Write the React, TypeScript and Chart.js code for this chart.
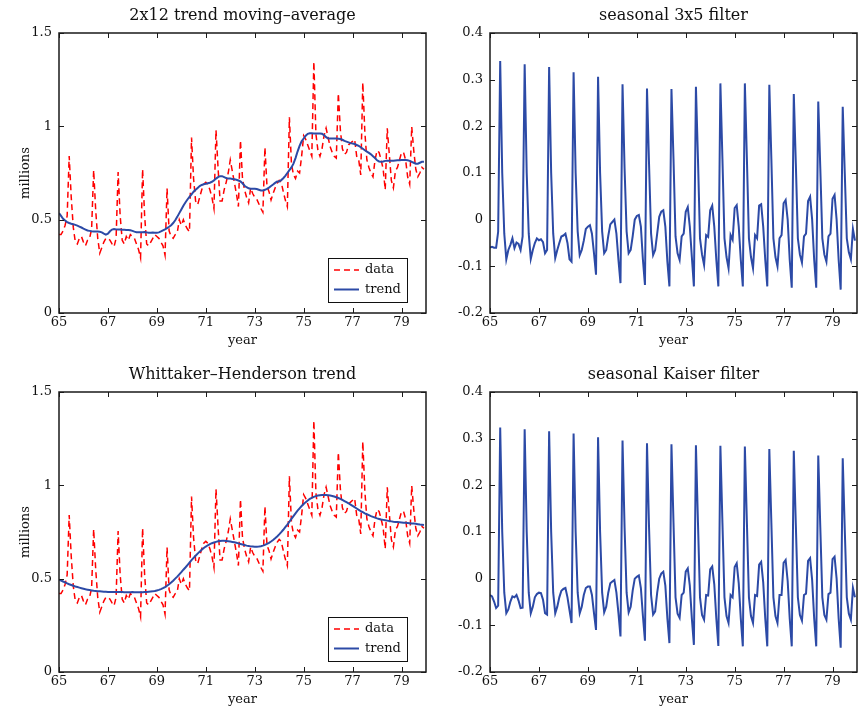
import React, { useEffect, useRef } from "react";
import { Chart, registerables } from "chart.js";

Chart.register(...registerables);

const FONT = '"DejaVu Serif", serif';
const TEXT = "#111111";
const RED = "#ff0000";
const BLUE = "#2c4aa6";

// x-axis (years, 1965-1980) and tick positions
const xTicks = [65, 67, 69, 71, 73, 75, 77, 79];
const levelTicks = [0, 0.5, 1, 1.5];
const seasonalTicks = [-0.2, -0.1, 0, 0.1, 0.2, 0.3, 0.4];

// monthly samples, January 1965 .. December 1979
const startYear = 65;
const monthsPerYear = 12;

// observed monthly series (millions), one row per year
const data = [
  0.42, 0.42, 0.44, 0.47, 0.52, 0.841, 0.62, 0.46, 0.38, 0.37, 0.40, 0.41,
  0.38, 0.36, 0.39, 0.40, 0.45, 0.765, 0.55, 0.40, 0.32, 0.35, 0.38, 0.40,
  0.40, 0.39, 0.37, 0.355, 0.40, 0.755, 0.52, 0.39, 0.37, 0.41, 0.39, 0.42,
  0.41, 0.40, 0.37, 0.34, 0.295, 0.77, 0.52, 0.37, 0.36, 0.38, 0.40, 0.42,
  0.41, 0.40, 0.38, 0.36, 0.31, 0.668, 0.44, 0.41, 0.40, 0.42, 0.43, 0.50,
  0.47, 0.50, 0.47, 0.45, 0.435, 0.94, 0.72, 0.60, 0.58, 0.62, 0.66, 0.69,
  0.70, 0.69, 0.66, 0.62, 0.56, 0.98, 0.78, 0.60, 0.60, 0.66, 0.70, 0.75,
  0.82, 0.76, 0.70, 0.64, 0.57, 0.925, 0.72, 0.66, 0.62, 0.59, 0.67, 0.64,
  0.62, 0.61, 0.585, 0.56, 0.54, 0.887, 0.68, 0.65, 0.605, 0.64, 0.67, 0.695,
  0.71, 0.70, 0.65, 0.605, 0.57, 1.048, 0.80, 0.74, 0.72, 0.76, 0.75, 0.84,
  0.95, 0.93, 0.90, 0.87, 0.84, 1.346, 0.96, 0.87, 0.84, 0.88, 0.95, 0.99,
  0.94, 0.89, 0.86, 0.84, 0.83, 1.177, 0.98, 0.88, 0.85, 0.86, 0.90, 0.91,
  0.92, 0.93, 0.84, 0.82, 0.74, 1.234, 0.97, 0.82, 0.78, 0.75, 0.73, 0.82,
  0.87, 0.86, 0.82, 0.77, 0.66, 0.99, 0.85, 0.71, 0.67, 0.76, 0.78, 0.82,
  0.86, 0.86, 0.82, 0.73, 0.69, 0.998, 0.87, 0.77, 0.73, 0.75, 0.78, 0.77,
];

// 2x12 moving-average trend
const trendMA = [
  0.535, 0.52, 0.505, 0.495, 0.487, 0.482, 0.478, 0.475, 0.472, 0.468, 0.463, 0.458,
  0.452, 0.447, 0.442, 0.44, 0.438, 0.437, 0.437, 0.436, 0.435, 0.432, 0.425, 0.42,
  0.425, 0.438, 0.447, 0.45, 0.448, 0.447, 0.447, 0.446, 0.446, 0.445, 0.445, 0.443,
  0.44, 0.436, 0.433, 0.432, 0.432, 0.433, 0.434, 0.432, 0.43, 0.43, 0.431, 0.43,
  0.43, 0.432, 0.437, 0.443, 0.448, 0.455, 0.462, 0.47, 0.482, 0.497, 0.515, 0.535,
  0.555, 0.575, 0.592, 0.608, 0.622, 0.636, 0.65, 0.66, 0.67, 0.68, 0.686, 0.69,
  0.692, 0.695, 0.698, 0.703, 0.71, 0.72, 0.728, 0.733, 0.733, 0.728, 0.723, 0.72,
  0.72, 0.718, 0.716, 0.714, 0.71, 0.705, 0.695, 0.682, 0.674, 0.668, 0.666, 0.665,
  0.665, 0.664, 0.66, 0.656, 0.656, 0.66, 0.665, 0.672, 0.68, 0.688, 0.697, 0.705,
  0.705, 0.712, 0.722, 0.735, 0.75, 0.765, 0.78, 0.80, 0.83, 0.865, 0.895, 0.92,
  0.935, 0.95, 0.96, 0.963, 0.963, 0.962, 0.962, 0.962, 0.962, 0.96, 0.953, 0.942,
  0.935, 0.935, 0.935, 0.935, 0.935, 0.934, 0.932, 0.928, 0.922, 0.918, 0.914, 0.91,
  0.908, 0.905, 0.90, 0.895, 0.888, 0.88, 0.872, 0.865, 0.858, 0.85, 0.84, 0.83,
  0.818, 0.812, 0.81, 0.812, 0.815, 0.816, 0.815, 0.815, 0.816, 0.817, 0.818, 0.818,
  0.82, 0.82, 0.819, 0.818, 0.815, 0.81, 0.805, 0.80, 0.80, 0.805, 0.81, 0.81,
];

// Whittaker-Henderson smoothed trend
const trendWH = [
  0.495, 0.49, 0.485, 0.48, 0.475, 0.47, 0.466, 0.462, 0.458, 0.455, 0.452, 0.449,
  0.446, 0.443, 0.441, 0.439, 0.437, 0.435, 0.434, 0.433, 0.432, 0.431, 0.43, 0.43,
  0.429, 0.429, 0.428, 0.428, 0.428, 0.428, 0.428, 0.428, 0.427, 0.427, 0.427, 0.427,
  0.428, 0.427, 0.427, 0.427, 0.427, 0.427, 0.428, 0.429, 0.43, 0.431, 0.432, 0.434,
  0.437, 0.44, 0.444, 0.449, 0.455, 0.462, 0.47, 0.479, 0.489, 0.5, 0.511, 0.523,
  0.535, 0.548, 0.56, 0.573, 0.586, 0.599, 0.611, 0.623, 0.634, 0.645, 0.655, 0.664,
  0.672, 0.679, 0.685, 0.69, 0.694, 0.697, 0.7, 0.702, 0.703, 0.703, 0.702, 0.701,
  0.699, 0.697, 0.695, 0.692, 0.689, 0.686, 0.683, 0.68, 0.677, 0.675, 0.673, 0.672,
  0.671, 0.671, 0.672, 0.674, 0.677, 0.681, 0.686, 0.692, 0.699, 0.707, 0.716, 0.726,
  0.737, 0.749, 0.762, 0.776, 0.79, 0.805, 0.82, 0.835, 0.85, 0.864, 0.877, 0.889,
  0.9, 0.91, 0.919, 0.927, 0.933, 0.938, 0.942, 0.945, 0.947, 0.948, 0.948, 0.948,
  0.947, 0.945, 0.943, 0.94, 0.936, 0.932, 0.927, 0.922, 0.916, 0.91, 0.904, 0.897,
  0.89, 0.883, 0.876, 0.869, 0.862, 0.856, 0.85, 0.845, 0.84, 0.835, 0.831, 0.827,
  0.823, 0.82, 0.817, 0.815, 0.813, 0.811, 0.809, 0.807, 0.805, 0.804, 0.803, 0.802,
  0.801, 0.8, 0.799, 0.798, 0.797, 0.796, 0.795, 0.794, 0.792, 0.79, 0.789, 0.787,
];

// seasonal component from the 3x5 seasonal filter
const seasonal3x5 = [
  -0.06, -0.058, -0.06, -0.06, -0.026, 0.34, 0.10, -0.03, -0.085, -0.065, -0.054, -0.04,
  -0.061, -0.049, -0.052, -0.065, -0.036, 0.333, 0.10, -0.03, -0.084, -0.065, -0.05, -0.04,
  -0.044, -0.042, -0.048, -0.072, -0.065, 0.327, 0.10, -0.03, -0.082, -0.065, -0.05, -0.036,
  -0.034, -0.03, -0.05, -0.085, -0.09, 0.316, 0.10, -0.025, -0.076, -0.065, -0.045, -0.02,
  -0.015, -0.012, -0.03, -0.072, -0.118, 0.306, 0.10, -0.025, -0.072, -0.065, -0.035, -0.01,
  -0.005, 0.0, -0.03, -0.086, -0.136, 0.29, 0.11, -0.025, -0.072, -0.065, -0.035, 0.0,
  0.008, 0.01, -0.015, -0.086, -0.14, 0.281, 0.12, -0.03, -0.076, -0.065, -0.03, 0.006,
  0.017, 0.02, -0.015, -0.09, -0.143, 0.28, 0.13, -0.036, -0.072, -0.086, -0.036, -0.03,
  0.017, 0.027, -0.015, -0.08, -0.143, 0.285, 0.13, -0.04, -0.075, -0.097, -0.033, -0.037,
  0.02, 0.03, -0.015, -0.086, -0.143, 0.292, 0.13, -0.04, -0.08, -0.104, -0.033, -0.043,
  0.025, 0.031, -0.015, -0.086, -0.143, 0.292, 0.13, -0.04, -0.08, -0.104, -0.033, -0.04,
  0.03, 0.033, -0.015, -0.086, -0.143, 0.289, 0.13, -0.04, -0.08, -0.10, -0.04, -0.033,
  0.035, 0.042, 0.0, -0.086, -0.146, 0.269, 0.12, -0.04, -0.075, -0.092, -0.036, -0.03,
  0.04, 0.049, 0.0, -0.086, -0.146, 0.253, 0.11, -0.04, -0.075, -0.09, -0.036, -0.03,
  0.045, 0.053, 0.0, -0.086, -0.15, 0.242, 0.10, -0.04, -0.07, -0.085, -0.02, -0.045,
];

// seasonal component from the Kaiser seasonal filter
const seasonalKaiser = [
  -0.035, -0.038, -0.049, -0.063, -0.058, 0.324, 0.10, -0.03, -0.074, -0.066, -0.049, -0.038,
  -0.04, -0.035, -0.047, -0.063, -0.062, 0.32, 0.10, -0.03, -0.074, -0.06, -0.04, -0.033,
  -0.03, -0.031, -0.045, -0.074, -0.077, 0.316, 0.10, -0.03, -0.074, -0.06, -0.04, -0.026,
  -0.022, -0.02, -0.04, -0.068, -0.095, 0.311, 0.10, -0.03, -0.074, -0.06, -0.035, -0.02,
  -0.017, -0.017, -0.035, -0.074, -0.11, 0.303, 0.10, -0.03, -0.072, -0.06, -0.03, -0.01,
  -0.006, -0.003, -0.03, -0.074, -0.124, 0.296, 0.11, -0.03, -0.072, -0.06, -0.025, 0.0,
  0.004, 0.007, -0.02, -0.08, -0.133, 0.29, 0.11, -0.035, -0.077, -0.07, -0.03, 0.0,
  0.011, 0.015, -0.015, -0.085, -0.138, 0.288, 0.12, -0.04, -0.075, -0.084, -0.035, -0.03,
  0.015, 0.022, -0.015, -0.085, -0.142, 0.286, 0.12, -0.04, -0.078, -0.088, -0.035, -0.036,
  0.02, 0.026, -0.012, -0.085, -0.144, 0.285, 0.12, -0.04, -0.08, -0.095, -0.035, -0.04,
  0.025, 0.033, -0.01, -0.085, -0.145, 0.283, 0.12, -0.04, -0.08, -0.095, -0.035, -0.037,
  0.03, 0.036, -0.008, -0.085, -0.145, 0.278, 0.12, -0.04, -0.08, -0.095, -0.035, -0.035,
  0.034, 0.04, -0.005, -0.085, -0.145, 0.274, 0.115, -0.04, -0.078, -0.09, -0.035, -0.032,
  0.038, 0.044, -0.003, -0.085, -0.145, 0.264, 0.11, -0.04, -0.078, -0.088, -0.033, -0.03,
  0.042, 0.047, 0.0, -0.085, -0.148, 0.258, 0.105, -0.04, -0.075, -0.088, -0.02, -0.04,
];

const toPoints = (values: number[]) =>
  values.map((v, i) => ({ x: startYear + i / monthsPerYear, y: v }));

const fmt = (v: number) => String(Number(v.toFixed(2)));

// Axes box, inward tick marks on all four sides, and an inset legend
const framePlugin = {
  id: "frame",
  afterDraw(chart: any, _args: any, opts: any) {
    const { ctx, chartArea: a, scales } = chart;
    const tick = 5;
    ctx.save();
    ctx.strokeStyle = "#1a1a1a";
    ctx.lineWidth = 1;
    ctx.beginPath();
    for (const t of scales.x.ticks) {
      const px = Math.round(scales.x.getPixelForValue(t.value)) + 0.5;
      ctx.moveTo(px, a.bottom);
      ctx.lineTo(px, a.bottom - tick);
      ctx.moveTo(px, a.top);
      ctx.lineTo(px, a.top + tick);
    }
    for (const t of scales.y.ticks) {
      const py = Math.round(scales.y.getPixelForValue(t.value)) + 0.5;
      ctx.moveTo(a.left, py);
      ctx.lineTo(a.left + tick, py);
      ctx.moveTo(a.right, py);
      ctx.lineTo(a.right - tick, py);
    }
    ctx.stroke();
    ctx.lineWidth = 1.5;
    ctx.strokeRect(a.left, a.top, a.right - a.left, a.bottom - a.top);

    if (opts && opts.legend) {
      const w = 79;
      const h = 44;
      const x0 = a.right - 19 - w;
      const y0 = a.bottom - 11 - h;
      ctx.fillStyle = "#ffffff";
      ctx.fillRect(x0, y0, w, h);
      ctx.lineWidth = 1;
      ctx.strokeStyle = "#111111";
      ctx.strokeRect(x0 + 0.5, y0 + 0.5, w, h);
      const order: number[] = opts.legendOrder;
      order.forEach((di, row) => {
        const ds = chart.data.datasets[di];
        const cy = y0 + 12 + row * 19.5;
        ctx.beginPath();
        ctx.strokeStyle = ds.borderColor;
        ctx.lineWidth = ds.borderWidth;
        ctx.setLineDash(ds.borderDash || []);
        ctx.moveTo(x0 + 6, cy);
        ctx.lineTo(x0 + 31, cy);
        ctx.stroke();
        ctx.setLineDash([]);
        ctx.fillStyle = TEXT;
        ctx.font = `13px ${FONT}`;
        ctx.textBaseline = "middle";
        ctx.textAlign = "left";
        ctx.fillText(ds.label, x0 + 37, cy);
      });
    }
    ctx.restore();
  },
};

type PanelSpec = {
  left: number;
  top: number;
  width: number;
  height: number;
  bottomPad: number;
  yWidth: number;
  title: string;
  yMin: number;
  yMax: number;
  yTicks: number[];
  yTitle?: string;
  datasets: any[];
  legend: boolean;
};

function buildConfig(p: PanelSpec): any {
  const tickFont = { family: FONT, size: 13 };
  return {
    type: "line",
    data: { datasets: p.datasets },
    plugins: [framePlugin],
    options: {
      responsive: false,
      animation: false,
      devicePixelRatio: 1,
      events: [],
      layout: { padding: { left: 0, right: 4, top: 0, bottom: p.bottomPad } },
      plugins: {
        legend: { display: false },
        tooltip: { enabled: false },
        title: {
          display: true,
          fullSize: false,
          text: p.title,
          color: TEXT,
          font: { family: FONT, size: 16, weight: "normal" },
          padding: { top: 6, bottom: 7.8 },
        },
        frame: { legend: p.legend, legendOrder: [0, 1] },
      },
      scales: {
        x: {
          type: "linear",
          min: 65,
          max: 80,
          afterBuildTicks: (s: any) => {
            s.ticks = xTicks.map((v) => ({ value: v }));
          },
          afterFit: (s: any) => {
            s.height = 36;
          },
          grid: { display: false, drawTicks: false },
          border: { display: false },
          ticks: {
            padding: 2,
            color: TEXT,
            font: tickFont,
            autoSkip: false,
            maxRotation: 0,
            callback: (v: number) => fmt(v),
          },
          title: {
            display: true,
            text: "year",
            color: TEXT,
            font: tickFont,
            padding: { top: 0, bottom: 1 },
          },
        },
        y: {
          type: "linear",
          min: p.yMin,
          max: p.yMax,
          afterBuildTicks: (s: any) => {
            s.ticks = p.yTicks.map((v) => ({ value: v }));
          },
          afterFit: (s: any) => {
            s.width = p.yWidth;
          },
          grid: { display: false, drawTicks: false },
          border: { display: false },
          ticks: {
            padding: 7,
            color: TEXT,
            font: tickFont,
            autoSkip: false,
            callback: (v: number) => fmt(v),
          },
          title: {
            display: !!p.yTitle,
            text: p.yTitle || "",
            color: TEXT,
            font: tickFont,
            padding: { top: 18, bottom: 0 },
          },
        },
      },
    },
  };
}

function Panel(p: PanelSpec) {
  const ref = useRef<HTMLCanvasElement>(null);
  useEffect(() => {
    const chart = new Chart(ref.current as HTMLCanvasElement, buildConfig(p));
    return () => chart.destroy();
  }, []);
  return (
    <canvas
      ref={ref}
      width={p.width}
      height={p.height}
      style={{ position: "absolute", left: p.left, top: p.top, width: p.width, height: p.height }}
    />
  );
}

const dataSet = () => ({
  label: "data",
  data: toPoints(data),
  borderColor: RED,
  borderWidth: 1.5,
  borderDash: [6, 4],
  pointRadius: 0,
  fill: false,
  tension: 0,
  order: 2,
});

const lineSet = (label: string, values: number[]) => ({
  label,
  data: toPoints(values),
  borderColor: BLUE,
  borderWidth: 2,
  pointRadius: 0,
  fill: false,
  tension: 0,
  order: 1,
});

export default function App() {
  return (
    <div style={{ position: "absolute", left: 0, top: 0, width: 861, height: 708, background: "#ffffff" }}>
      <Panel
        left={0}
        top={0}
        width={430}
        height={354}
        bottomPad={5}
        yWidth={59}
        title="2x12 trend moving–average"
        yMin={0}
        yMax={1.5}
        yTicks={levelTicks}
        yTitle="millions"
        datasets={[dataSet(), lineSet("trend", trendMA)]}
        legend={true}
      />
      <Panel
        left={430}
        top={0}
        width={431}
        height={354}
        bottomPad={5}
        yWidth={60}
        title="seasonal 3x5 filter"
        yMin={-0.2}
        yMax={0.4}
        yTicks={seasonalTicks}
        datasets={[lineSet("seasonal", seasonal3x5)]}
        legend={false}
      />
      <Panel
        left={0}
        top={359}
        width={430}
        height={349}
        bottomPad={0}
        yWidth={59}
        title="Whittaker–Henderson trend"
        yMin={0}
        yMax={1.5}
        yTicks={levelTicks}
        yTitle="millions"
        datasets={[dataSet(), lineSet("trend", trendWH)]}
        legend={true}
      />
      <Panel
        left={430}
        top={359}
        width={431}
        height={349}
        bottomPad={0}
        yWidth={60}
        title="seasonal Kaiser filter"
        yMin={-0.2}
        yMax={0.4}
        yTicks={seasonalTicks}
        datasets={[lineSet("seasonal", seasonalKaiser)]}
        legend={false}
      />
    </div>
  );
}
